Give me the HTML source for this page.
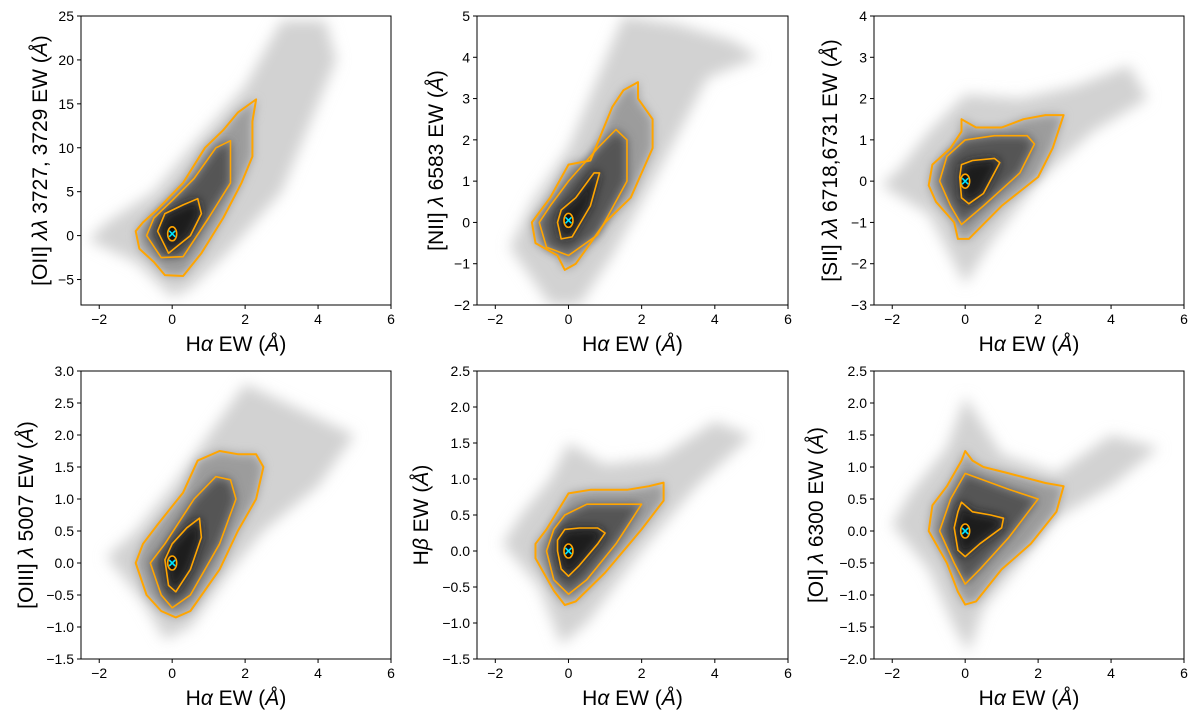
<!DOCTYPE html>
<html><head><meta charset="utf-8"><style>
body{margin:0;background:#fff;}
svg text{font-family:"Liberation Sans","DejaVu Sans",sans-serif;fill:#000;}
</style></head><body>
<svg id="fig" width="1200" height="720" xmlns="http://www.w3.org/2000/svg">
<defs>
<filter id="b1" x="-20%" y="-20%" width="140%" height="140%"><feGaussianBlur stdDeviation="7"/></filter>
<filter id="b2" x="-20%" y="-20%" width="140%" height="140%"><feGaussianBlur stdDeviation="5"/></filter>
</defs>
</svg>
<script>
const xTicks=[-2,0,2,4,6];
const xLim=[-2.5,6];
const boxes=[[81,16,391,305],[477,16,788,305],[874,16,1184,305],[81,371,391,659],[477,371,788,659],[874,371,1184,659]];
const yLims=[[-7.9,25],[-2,5],[-3,4],[-1.5,3],[-1.5,2.5],[-2,2.5]];
const yTicks=[[-5,0,5,10,15,20,25],[-2,-1,0,1,2,3,4,5],[-3,-2,-1,0,1,2,3,4],[-1.5,-1.0,-0.5,0.0,0.5,1.0,1.5,2.0,2.5,3.0],[-1.5,-1.0,-0.5,0.0,0.5,1.0,1.5,2.0,2.5],[-2.0,-1.5,-1.0,-0.5,0.0,0.5,1.0,1.5,2.0,2.5]];
const yDec=[0,0,0,1,1,1];
const yLabels=['[OII] <tspan font-style="italic">λλ</tspan> 3727, 3729 EW (<tspan font-style="italic">Å</tspan>)','[NII] <tspan font-style="italic">λ</tspan> 6583 EW (<tspan font-style="italic">Å</tspan>)','[SII] <tspan font-style="italic">λλ</tspan> 6718,6731 EW (<tspan font-style="italic">Å</tspan>)','[OIII] <tspan font-style="italic">λ</tspan> 5007 EW (<tspan font-style="italic">Å</tspan>)','H<tspan font-style="italic">β</tspan> EW (<tspan font-style="italic">Å</tspan>)','[OI] <tspan font-style="italic">λ</tspan> 6300 EW (<tspan font-style="italic">Å</tspan>)'];
const yLabelX=[40,436,830,26,421,816];
const clouds=[
[[-2.3,-0.5],[-1,-3],[0,-7],[0.5,-6],[1.5,-2],[3,5],[4.5,20],[4.2,24.5],[3,24.5],[2,17],[0.5,10],[-0.5,5],[-1.8,1.5]],
[[-1.6,-0.6],[-0.5,-2],[0.3,-2],[1.2,-0.8],[2.5,1.3],[3.8,3.5],[5.2,4],[4.5,4.4],[3,4.8],[1.5,5],[0.8,3.5],[0,1.8],[-1,0.5]],
[[-2.3,-0.1],[-1,-0.8],[0,-2.5],[0.7,-1.5],[2,0],[3.5,1.2],[5,2],[4.5,2.8],[3,2.3],[1.5,2],[0,2.1],[-1,1.2],[-1.8,0.3]],
[[-1.8,0.1],[-0.8,-0.6],[-0.2,-1.2],[0.5,-1.0],[1.5,-0.2],[2.5,0.5],[4,1.2],[5,2],[3.5,2.4],[2,2.8],[1,2],[0,1.2],[-1,0.5]],
[[-1.8,0.1],[-0.8,-0.5],[-0.2,-1.3],[0.5,-1],[2,0],[3.5,0.9],[5,1.6],[4,1.8],[2.5,1.3],[1,1.2],[0,1.5],[-0.5,1],[-1.3,0.5]],
[[-2,0.1],[-1,-0.6],[-0.3,-1.5],[0.1,-1.9],[0.5,-1.2],[1.5,-0.5],[2.5,0.2],[4,0.7],[5.3,1.3],[4,1.5],[2.5,0.9],[1,1.2],[0,2.1],[-0.5,1.3],[-1.5,0.6]]];
const outerC=[
[[-1,0.5],[-0.9,-1.5],[-0.5,-3],[-0.2,-4.5],[0.3,-4.6],[0.8,-2],[1.4,2],[1.9,6],[2.2,9],[2.2,13],[2.3,15.5],[1.8,14],[1.4,12],[0.9,10],[0.3,6],[-0.4,3],[-0.8,1.5]],
[[-1,0],[-0.9,-0.5],[-0.3,-0.8],[-0.1,-1.15],[0.2,-1.0],[1.0,0],[1.7,0.6],[2.3,1.8],[2.3,2.5],[1.9,3],[1.9,3.4],[1.5,3.2],[1.2,2.8],[0.6,1.5],[0,1.4],[-0.5,0.6]],
[[-1,-0.1],[-0.8,-0.5],[-0.3,-1.0],[-0.2,-1.4],[0.1,-1.4],[1,-0.6],[2,0.1],[2.4,0.8],[2.7,1.6],[2.2,1.6],[1.6,1.5],[1,1.3],[0.3,1.3],[-0.1,1.5],[-0.1,1.2],[-0.4,0.8],[-0.9,0.4]],
[[-1,0],[-0.7,-0.5],[-0.3,-0.75],[0.1,-0.85],[0.5,-0.75],[1.3,-0.1],[1.8,0.5],[2.3,1],[2.5,1.5],[2.3,1.7],[1.8,1.7],[1.3,1.75],[0.7,1.6],[0.3,1.1],[-0.4,0.6],[-0.8,0.3]],
[[-0.9,0.1],[-0.9,-0.1],[-0.4,-0.55],[-0.1,-0.75],[0.2,-0.7],[1.0,-0.3],[2.0,0.3],[2.6,0.7],[2.6,0.95],[2.2,0.9],[1.6,0.85],[0.6,0.85],[0,0.8],[-0.3,0.55],[-0.6,0.3]],
[[-1,0],[-0.5,-0.5],[-0.2,-0.95],[0,-1.15],[0.3,-1.1],[1,-0.6],[1.8,-0.2],[2.5,0.3],[2.7,0.7],[2.2,0.75],[1.2,0.9],[0.5,1.0],[0.2,1.1],[0,1.25],[-0.1,1.1],[-0.5,0.7],[-0.9,0.4]]];
const midC=[
[[-0.7,0],[-0.3,-2.5],[0.3,-2.4],[1,2],[1.6,6],[1.6,10.8],[1.2,10],[0.6,6.5],[0,4],[-0.5,2]],
[[-0.8,0],[-0.6,-0.6],[0,-0.8],[0.8,-0.3],[1.6,1],[1.6,2],[1.3,2.25],[0.8,1.8],[0,1],[-0.5,0.4]],
[[-0.7,0],[-0.4,-0.6],[-0.1,-1.05],[0.5,-0.6],[1.5,0.2],[1.9,0.9],[1.7,1.1],[0.8,1.1],[0,1.0],[-0.5,0.6]],
[[-0.6,0],[-0.3,-0.5],[0,-0.7],[0.5,-0.5],[1.3,0.3],[1.75,1.0],[1.6,1.3],[1.2,1.35],[0.6,1.0],[-0.2,0.3]],
[[-0.6,0],[-0.4,-0.4],[0,-0.6],[0.5,-0.4],[1.3,0.1],[2,0.65],[1.5,0.65],[0.5,0.65],[-0.1,0.5],[-0.4,0.3]],
[[-0.7,0],[-0.3,-0.5],[0,-0.83],[0.4,-0.6],[1.2,-0.1],[2.0,0.5],[1.2,0.65],[0,0.9],[-0.4,0.5]]];
const innerC=[
[[-0.4,0.5],[-0.1,-2],[0.5,0],[0.8,2.5],[0.7,4.2],[0.3,3.5],[-0.2,2.5]],
[[-0.3,0],[-0.2,-0.4],[0.1,-0.35],[0.6,0.4],[0.85,1.2],[0.7,1.2],[0.2,0.6],[-0.2,0.3]],
[[-0.15,0.1],[-0.1,-0.4],[0.1,-0.55],[0.5,-0.3],[0.95,0.45],[0.8,0.55],[0.2,0.5],[-0.1,0.4]],
[[-0.2,0.05],[-0.1,-0.35],[0.1,-0.45],[0.5,-0.1],[0.8,0.4],[0.75,0.7],[0.4,0.55],[0,0.3]],
[[-0.3,0],[-0.2,-0.25],[0,-0.35],[0.3,-0.2],[0.8,0.1],[1,0.25],[0.8,0.32],[0.3,0.32],[-0.1,0.3],[-0.3,0.15]],
[[-0.3,0.05],[-0.2,-0.3],[0,-0.4],[0.4,-0.2],[1,0.05],[1.05,0.2],[0.7,0.25],[0.2,0.3],[-0.1,0.45],[-0.2,0.3]]];
const centers=[[0,0.2],[0,0.05],[0,0],[0,0],[0,0],[0,0]];

const svg=document.getElementById('fig');
const NS='http://www.w3.org/2000/svg';
function mk(tag,attrs,parent){const e=document.createElementNS(NS,tag);for(const k in attrs)e.setAttribute(k,attrs[k]);(parent||svg).appendChild(e);return e;}
for(let p=0;p<6;p++){
  const [L,T,R,B]=boxes[p];const yl=yLims[p];
  const sx=v=>L+(v-xLim[0])/(xLim[1]-xLim[0])*(R-L);
  const sy=v=>B-(v-yl[0])/(yl[1]-yl[0])*(B-T);
  const pts=a=>a.map(q=>sx(q[0]).toFixed(1)+','+sy(q[1]).toFixed(1)).join(' ');
  const g=mk('g',{});
  
  
  const cp=mk('clipPath',{id:'cp'+p},g);
  mk('rect',{x:L,y:T,width:R-L,height:B-T},cp);
  const dg=mk('g',{'clip-path':'url(#cp'+p+')'},g);
  const c0=mk('polygon',{points:pts(clouds[p]),fill:'#d2d2d2',filter:'url(#b1)'},dg);
  
  
  const c1=mk('polygon',{points:pts(outerC[p]),fill:'#9c9c9c',filter:'url(#b2)'},dg);
  
  
  const c2=mk('polygon',{points:pts(midC[p]),fill:'#555',filter:'url(#b2)'},dg);
  
  
  const c3=mk('polygon',{points:pts(innerC[p]),fill:'#1a1a1a',filter:'url(#b2)'},dg);
  
  
  [outerC[p],midC[p],innerC[p]].forEach((c,i)=>{
    const l=mk('polygon',{points:pts(c),fill:'none',stroke:'#ffa500','stroke-width':i==0?2:1.6,'stroke-linejoin':'round'},dg);
    
    
  });
  const cx=sx(centers[p][0]),cy=sy(centers[p][1]);
  const e=mk('ellipse',{cx:cx,cy:cy,rx:4.5,ry:7,fill:'#111',stroke:'#ffa500','stroke-width':1.6},dg);
  
  
  const m=mk('path',{d:`M${cx-3},${cy-3}L${cx+3},${cy+3}M${cx-3},${cy+3}L${cx+3},${cy-3}`,stroke:'#00e5ff','stroke-width':1.6},dg);
  
  
  const fr=mk('rect',{x:L,y:T,width:R-L,height:B-T,fill:'none',stroke:'#000','stroke-width':1},g);
  
  
  xTicks.forEach(v=>{const x=sx(v);
    mk('line',{x1:x,x2:x,y1:B,y2:B+4,stroke:'#000'},g);
    const t=mk('text',{x:x,y:B+19,'font-size':14,'text-anchor':'middle'},g);
    t.textContent=(v<0?'\u2212':'')+Math.abs(v);
    
    
  });
  yTicks[p].forEach(v=>{const y=sy(v);
    mk('line',{x1:L-4,x2:L,y1:y,y2:y,stroke:'#000'},g);
    const t=mk('text',{x:L-7,y:y+5,'font-size':14,'text-anchor':'end'},g);
    t.textContent=(v<0?'\u2212':'')+Math.abs(v).toFixed(yDec[p]);
    
    
  });
  const xl=mk('text',{x:(L+R)/2,y:B+46,'font-size':21,'text-anchor':'middle'},g);
  xl.innerHTML='H<tspan font-style="italic">α</tspan> EW (<tspan font-style="italic">Å</tspan>)';
  
  
  const yc=(T+B)/2;
  const ylab=mk('text',{x:0,y:0,'font-size':21,'text-anchor':'middle',transform:`translate(${yLabelX[p]+7},${yc}) rotate(-90)`},g);
  ylab.innerHTML=yLabels[p];
  
  
}
</script>
</body></html>
